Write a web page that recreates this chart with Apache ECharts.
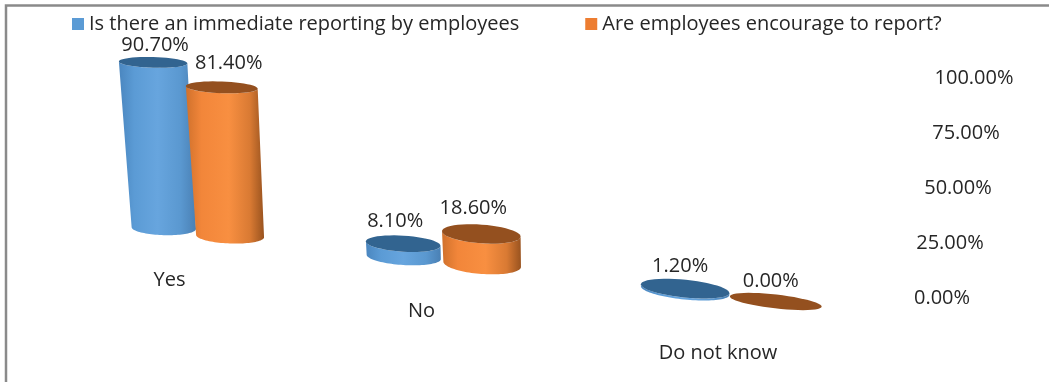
<!DOCTYPE html>
<html>
<head>
<meta charset="utf-8">
<style>html,body{margin:0;padding:0;background:#fff}#chart{width:1049px;height:382px}</style>
<script src="https://cdn.jsdelivr.net/npm/echarts@6/dist/echarts.min.js"></script>
</head>
<body>
<div id="chart"></div>
<script>
// Chart values
const categories = ['Yes', 'No', 'Do not know'];
const reportingValues = [90.7, 8.1, 1.2];
const encourageValues = [81.4, 18.6, 0];
const tickValues = [0, 25, 50, 75, 100];
const seriesNames = ['Is there an immediate reporting by employees', 'Are employees encourage to report?'];

// Perspective of the 3D scene
const FONT = '20px "Open Sans", sans-serif';
const TEXT = '#262626';
const BAR_OFFSET = 0.147;      // half the spacing of the two cylinders, in category units
const BEND = 20.75;            // categories spread out towards the viewer
const GROUND_SLOPE = 0.12;     // the floor falls to the right
const GROUND_LIFT = 69;        // floor height above the tick-label zero line
const depthScale = [0.83, 0.74, 0.74];   // heights shrink with distance from the front row
const radiusScale = [1, 0.97, 1];
const floorNudge = [[0, 0], [0, -2], [0, 0]];
const valueLabelNudge = [[[2, -17], [7, -24]], [[-8, -22], [-8, -26]], [[-5, -22], [-5, -20]]];

function sceneX(api, t) {
  const c0 = api.coord([0, 0])[0];
  const c1 = api.coord([1, 0])[0];
  return c0 + (c1 - c0) * t + BEND * t * (t - 1);
}
function groundY(api, x) {
  return api.coord([0, 0])[1] - GROUND_LIFT + GROUND_SLOPE * (x - sceneX(api, 0) + BAR_OFFSET * 225);
}

// Points of a tilted ellipse between two angles
function arc(cx, cy, rx, ry, tilt, from, to) {
  const pts = [];
  const steps = 48;
  const cos = Math.cos(tilt), sin = Math.sin(tilt);
  for (let i = 0; i <= steps; i++) {
    const a = from + (to - from) * i / steps;
    const ex = rx * Math.cos(a), ey = ry * Math.sin(a);
    pts.push([cx + ex * cos - ey * sin, cy + ex * sin + ey * cos]);
  }
  return pts;
}

function sideFill(stops) {
  return new echarts.graphic.LinearGradient(0, 0, 1, 0, stops.map((c) => ({ offset: c[0], color: c[1] })));
}

function cylinderRenderer(seriesIndex, palette) {
  return function (params, api) {
    const cat = api.value(0);
    const value = api.value(1);
    const t = cat + (seriesIndex === 0 ? -BAR_OFFSET : BAR_OFFSET);
    const baseX = sceneX(api, t);
    const baseY = groundY(api, baseX) + floorNudge[cat][seriesIndex];
    const rise = (api.coord([cat, 0])[1] - api.coord([cat, value])[1]) * depthScale[cat];
    const topX = baseX - 0.11 * (1 - 0.5 * t) * value;
    const topY = baseY - rise;
    const rx = BAR_OFFSET * (225.25 + 41.5 * t) * radiusScale[cat];
    const topRx = rx * (1 + 0.0007 * value);
    const tilt = (1.5 + 0.008 * (baseX - 150)) * Math.PI / 180;
    const flat = cat === 2 ? (seriesIndex === 0 ? 0.2 : 0.15) : 0.22 + 0.03 * seriesIndex * cat;
    const ryBase = rx * flat;
    const ryTop = topRx * (flat - 0.0007 * value);
    const front = arc(baseX, baseY, rx, ryBase, tilt, 0, Math.PI);
    const topFront = arc(topX, topY, topRx, ryTop, tilt, Math.PI, 0);
    const nudge = valueLabelNudge[cat][seriesIndex];
    return {
      type: 'group',
      children: [
        { type: 'polygon', shape: { points: front.concat(topFront) }, style: { fill: sideFill(palette.side) } },
        { type: 'polygon', shape: { points: arc(topX, topY, topRx, ryTop, tilt, 0, Math.PI * 2) }, style: { fill: palette.top } },
        {
          type: 'text',
          style: {
            text: value.toFixed(2) + '%',
            x: topX + nudge[0], y: topY + nudge[1],
            textAlign: 'center', textVerticalAlign: 'middle', font: FONT, fill: TEXT
          }
        }
      ]
    };
  };
}

// Category names sit on the floor, in front of their cylinders
const categoryLabelNudge = [[-27, 48], [-21, 50], [-12, 57]];
function categoryLabelRenderer(params, api) {
  const i = params.dataIndex;
  const x = sceneX(api, i);
  return {
    type: 'text',
    style: {
      text: categories[i],
      x: x + categoryLabelNudge[i][0], y: groundY(api, x) + categoryLabelNudge[i][1],
      textAlign: 'center', textVerticalAlign: 'middle', font: FONT, fill: TEXT
    }
  };
}

// Tick labels follow the slanted back edge of the scene
function tickLabelRenderer(params, api) {
  const v = api.value(1);
  const p = api.coord([2, v]);
  return {
    type: 'text',
    style: {
      text: v.toFixed(2) + '%',
      x: p[0] + 253.5 + 0.32 * v, y: p[1] + 1,
      textAlign: 'center', textVerticalAlign: 'middle', font: FONT, fill: TEXT
    }
  };
}

const bluePalette = {
  top: '#326490',
  side: [[0, '#4a86bf'], [0.2, '#5b9bd5'], [0.5, '#67a5de'], [0.8, '#5a98d0'], [1, '#4a80b4']]
};
const orangePalette = {
  top: '#94501f',
  side: [[0, '#d0712c'], [0.2, '#f2863a'], [0.55, '#f88f41'], [0.82, '#d97a33'], [1, '#99531f']]
};

const chart = echarts.init(document.getElementById('chart'), null, { renderer: 'canvas' });
chart.setOption({
  animation: false,
  backgroundColor: '#ffffff',
  grid: { left: 73.5, width: 738, top: 77, height: 220 },
  xAxis: { type: 'category', data: categories, show: false },
  yAxis: { type: 'value', min: 0, max: 100, interval: 25, show: false },
  legend: {
    left: 67, top: 9, itemWidth: 12, itemHeight: 12, itemGap: 66, icon: 'rect',
    data: seriesNames,
    selectedMode: false,
    textStyle: { fontFamily: '"Open Sans", sans-serif', fontSize: 20, color: TEXT }
  },
  graphic: [{
    type: 'polyline', silent: true,
    shape: { points: [[6, 382], [6, 5.5], [1049, 5.5]] },
    style: { stroke: '#8a8a8a', lineWidth: 2.5, fill: null }
  }],
  series: [
    {
      type: 'custom', name: seriesNames[0], clip: false, z: 2,
      itemStyle: { color: '#5b9bd5' },
      encode: { x: 0, y: 1 },
      data: reportingValues.map((v, i) => [i, v]),
      renderItem: cylinderRenderer(0, bluePalette)
    },
    {
      type: 'custom', name: seriesNames[1], clip: false, z: 3,
      itemStyle: { color: '#ed7d31' },
      encode: { x: 0, y: 1 },
      data: encourageValues.map((v, i) => [i, v]),
      renderItem: cylinderRenderer(1, orangePalette)
    },
    {
      type: 'custom', name: 'categories', clip: false, silent: true, z: 4,
      encode: { x: 0, y: 1 },
      data: categories.map((c, i) => [i, 0]),
      renderItem: categoryLabelRenderer
    },
    {
      type: 'custom', name: 'ticks', clip: false, silent: true, z: 4,
      encode: { x: 0, y: 1 },
      data: tickValues.map(v => [2, v]),
      renderItem: tickLabelRenderer
    }
  ]
});
</script>
</body>
</html>
